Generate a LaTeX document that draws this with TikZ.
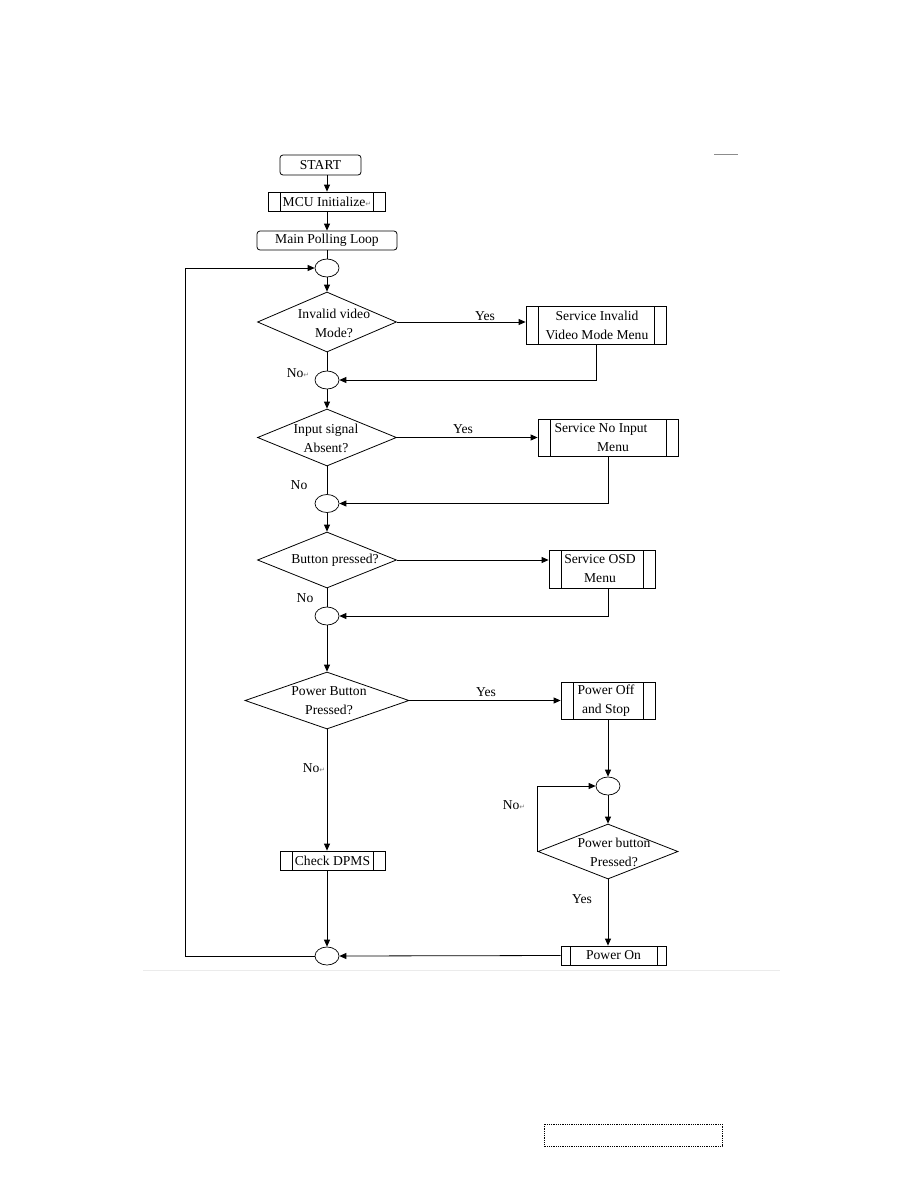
\documentclass[tikz,border=0pt]{standalone}
\usepackage{fontspec}
\setmainfont{Liberation Serif}
\newfontfamily\symfont{DejaVu Sans}
\usetikzlibrary{shapes.geometric,arrows.meta,calc}
\newcommand{\pmark}{{\symfont\fontsize{7}{7}\selectfont\color{gray}↵}}
\begin{document}
\begin{tikzpicture}[x=1pt,y=-1pt,
  every node/.style={font=\fontsize{13.6}{18}\selectfont},
  ln/.style={line width=0.8pt,draw=black},
  arr/.style={ln,-{Triangle[length=7pt,width=6pt]}},
  rbox/.style={draw,line width=0.8pt,rounded corners=3pt,inner sep=0pt},
  pbox/.style={draw,line width=0.8pt,inner sep=0pt,
    path picture={
      \draw[line width=0.8pt] ([xshift=#1]path picture bounding box.north west) -- ([xshift=#1]path picture bounding box.south west);
      \draw[line width=0.8pt] ([xshift=-#1]path picture bounding box.north east) -- ([xshift=-#1]path picture bounding box.south east);}},
  pbox/.default=12pt,
  diam/.style={draw,diamond,line width=0.8pt,inner sep=0pt},
  junc/.style={draw,ellipse,line width=0.7pt,minimum width=24pt,minimum height=18pt,inner sep=0pt},
  lbl/.style={inner sep=1pt},
  txt/.style={align=center,inner sep=0pt,font=\fontsize{13.6}{19}\selectfont}
]
\useasboundingbox (0,0) rectangle (914,1186);
\fill[white] (0,0) rectangle (914,1186);

% page artifacts
\draw[black!8,line width=1pt] (143,970) -- (780,970);
\draw[black!45,line width=0.8pt] (714,154) -- (738,154);
\draw[densely dotted,line width=0.8pt] (544,1124) rectangle (722,1146);

% top column
\node[rbox,minimum width=81pt,minimum height=20pt] (start) at (320.5,165) {START};
\node[pbox,minimum width=117pt,minimum height=19pt] (mcu) at (327,201.5) {MCU Initialize\pmark};
\node[rbox,minimum width=140pt,minimum height=19pt] (mpl) at (327,240.5) {Main Polling Loop};
\node[junc] (c1) at (327,268) {};

% decision 1
\node[diam,minimum width=139pt,minimum height=60pt] (d1) at (327,322) {};
\node[txt] (d1t) at (334,323) {Invalid video\\Mode?};
\node[pbox,minimum width=140pt,minimum height=38pt] (b1) at (596,325) {};
\node[txt] (b1t) at (597,325) {Service Invalid\\Video Mode Menu};
\node[junc] (c2) at (327,380) {};

% decision 2
\node[diam,minimum width=139pt,minimum height=57pt] (d2) at (327,437.5) {};
\node[txt] (d2t) at (326,438) {Input signal\\Absent?};
\node[pbox,minimum width=140pt,minimum height=37pt] (b2) at (608,437.5) {};
\node[txt] (b2t) at (601,438) {Service No Input\\\hspace*{24pt}Menu};
\node[junc] (c3) at (327,503.5) {};

% decision 3
\node[diam,minimum width=139pt,minimum height=56pt] (d3) at (327,560) {};
\node[txt] (d3t) at (335,560) {Button pressed?};
\node[pbox,minimum width=106pt,minimum height=38pt] (b3) at (602,569) {};
\node[txt] (b3t) at (600,569) {Service OSD\\Menu};
\node[junc] (c4) at (327,616) {};

% decision 4
\node[diam,minimum width=164pt,minimum height=57pt] (d4) at (327,700.5) {};
\node[txt] (d4t) at (329,701) {Power Button\\Pressed?};
\node[pbox,minimum width=94pt,minimum height=37pt] (b4) at (608,700.5) {};
\node[txt] (b4t) at (606,701) {Power Off\\and Stop};

% right loop
\node[junc] (c5) at (608,786) {};
\node[diam,minimum width=140pt,minimum height=55pt] (d5) at (608,851.5) {};
\node[txt] (d5t) at (614,852) {Power button\\Pressed?};
\node[pbox=9pt,minimum width=105pt,minimum height=19pt] (pon) at (613.5,955.5) {Power On};

% left bottom
\node[pbox,minimum width=105pt,minimum height=19pt] (dpms) at (332.5,860.5) {Check DPMS};
\node[junc] (c6) at (327,956) {};

% labels
\node[lbl] (yes1) at (485,316) {Yes};
\node[lbl] (no1) at (298,373) {No\pmark};
\node[lbl] (yes2) at (463,429) {Yes};
\node[lbl] (no2) at (299,485) {No};
\node[lbl] (no3) at (305,598) {No};
\node[lbl] (yes4) at (486,692) {Yes};
\node[lbl] (no4) at (314,768) {No\pmark};
\node[lbl] (no5) at (514,805) {No\pmark};
\node[lbl] (yes5) at (582,899) {Yes};

% connectors
\draw[arr] (mcu |- start.south) -- (mcu);
\draw[arr] (mcu) -- (mpl);
\draw[ln] (mpl) -- (c1);
\draw[arr] (c1) -- (d1.north);
\draw[arr] (d1.east) -- (b1.west |- d1.east);
\draw[ln] (d1.south) -- (c2.north);
\draw[arr] (b1.south) |- (c2.east);
\draw[arr] (c2) -- (d2.north);
\draw[arr] (d2.east) -- (b2.west |- d2.east);
\draw[ln] (d2.south) -- (c3.north);
\draw[arr] (b2.south) |- (c3.east);
\draw[arr] (c3) -- (d3.north);
\draw[arr] (d3.east) -- (b3.west |- d3.east);
\draw[ln] (d3.south) -- (c4.north);
\draw[arr] ([xshift=6pt]b3.south) |- (c4.east);
\draw[arr] (c4) -- (d4.north);
\draw[arr] (d4.east) -- (b4.west |- d4.east);
\draw[arr] (b4.south) -- (c5.north);
\draw[arr] (c5) -- (d5.north);
\draw[arr] (d5.west) |- (c5.west);
\draw[arr] (d5.south) -- (d5.south |- pon.north);
\draw[arr] (pon.west) -- (c6.east);
\draw[arr] (d4.south) -- (d4.south |- dpms.north);
\draw[arr] (c6 |- dpms.south) -- (c6.north);
\coordinate (lb) at (185,956);
\coordinate (lt) at (185,268);
\draw[arr] (c6.west) -- (lb) -- (lt) -- (c1.west);
\end{tikzpicture}
\end{document}
